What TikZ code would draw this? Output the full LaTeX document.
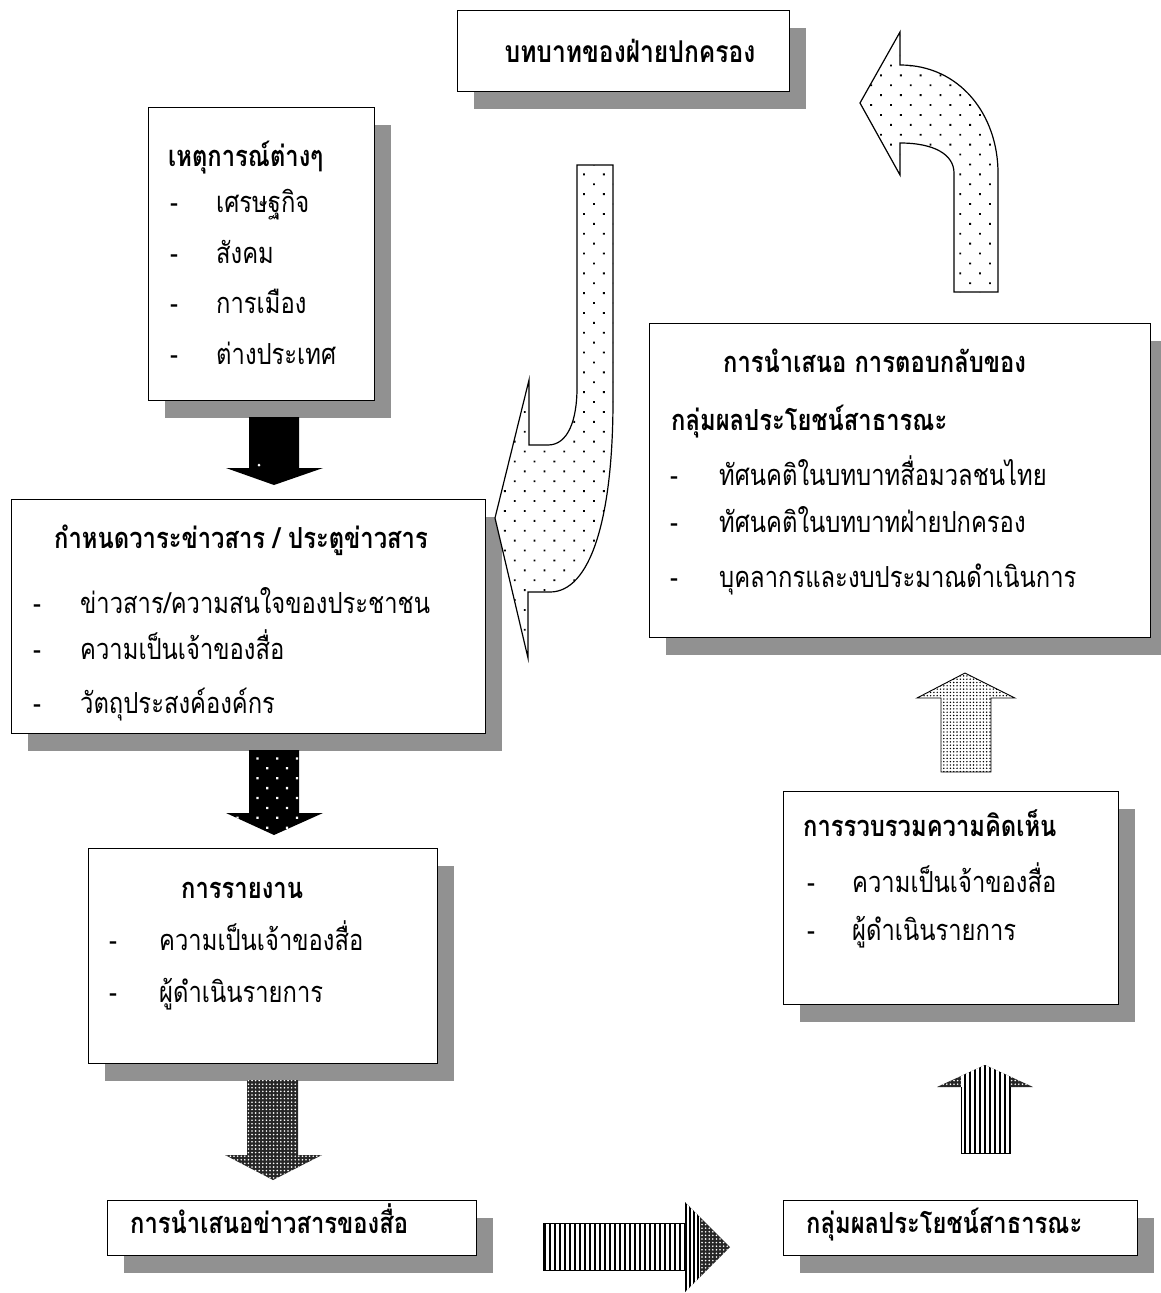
\documentclass[tikz,border=0pt]{standalone}
\usepackage{fontspec}
\newfontfamily\thai[Script=Thai, FakeStretch=0.82]{Loma}
\usetikzlibrary{patterns,patterns.meta,shadows}
\definecolor{shadowgray}{RGB}{145,145,145}
\tikzset{
  bx/.style={draw=black, line width=1.1pt, fill=white, anchor=north west, inner sep=0pt,
    general shadow={fill=shadowgray, shadow xshift=16pt, shadow yshift=-17pt}},
  tt/.style={anchor=base west, inner sep=0pt, font=\thai\bfseries\fontsize{29}{34}\selectfont},
  ttc/.style={anchor=base, inner sep=0pt, font=\thai\bfseries\fontsize{30}{34}\selectfont},
  it/.style={anchor=base west, inner sep=0pt, font=\thai\fontsize{29}{34}\selectfont},
  dsh/.style={anchor=base, inner sep=0pt, font=\thai\fontsize{29}{34}\selectfont},
  curvearrow/.style={draw=black, line width=1.2pt, preaction={fill=white},
    pattern={Dots[distance=14pt,angle=45,radius=1.3pt]}, pattern color=black},
  stripes/.style={pattern={Lines[angle=90,distance=5pt,line width=1.2pt]}, pattern color=black},
  finedots/.style={pattern={Dots[distance=3.3pt,radius=0.8pt]}, pattern color=black},
  darkgrid/.style={preaction={fill=black!85}, pattern={Dots[distance=3.6pt,radius=0.9pt]}, pattern color=white},
}
\begin{document}
\begin{tikzpicture}[x=1pt,y=-1pt]
\fill[white] (0,0) rectangle (1161,1293);
\useasboundingbox (0,0) rectangle (1161,1293);

% boxes
\node[bx, minimum width=332pt, minimum height=81pt] (bA) at (457,10) {};
\node[bx, minimum width=226pt, minimum height=293pt] (bB) at (148,107) {};
\node[bx, minimum width=474pt, minimum height=234pt] (bC) at (11,499) {};
\node[bx, minimum width=349pt, minimum height=215pt] (bD) at (88,848) {};
\node[bx, minimum width=369pt, minimum height=55pt] (bE) at (107,1200) {};
\node[bx, minimum width=354pt, minimum height=55pt] (bF) at (783,1200) {};
\node[bx, minimum width=335pt, minimum height=213pt] (bG) at (783,791) {};
\node[bx, minimum width=501pt, minimum height=314pt] (bH) at (649,323) {};

% texts A
\node[ttc] (tA) at (630,62) {บทบาทของฝ่ายปกครอง};
% B
\node[tt] (tB) at (168,166) {เหตุการณ์ต่างๆ};
\node[dsh] (dB1) at (174,212) {-};
\node[it] (iB1) at (216,212) {เศรษฐกิจ};
\node[dsh] (dB2) at (174,263) {-};
\node[it] (iB2) at (216,263) {สังคม};
\node[dsh] (dB3) at (174,313) {-};
\node[it] (iB3) at (216,313) {การเมือง};
\node[dsh] (dB4) at (174,364) {-};
\node[it] (iB4) at (216,364) {ต่างประเทศ};
% C
\node[tt] (tC) at (54,548) {กำหนดวาระข่าวสาร / ประตูข่าวสาร};
\node[dsh] (dC1) at (37,613) {-};
\node[it] (iC1) at (80,613) {ข่าวสาร/ความสนใจของประชาชน};
\node[dsh] (dC2) at (37,659) {-};
\node[it] (iC2) at (80,659) {ความเป็นเจ้าของสื่อ};
\node[dsh] (dC3) at (37,713) {-};
\node[it] (iC3) at (80,713) {วัตถุประสงค์องค์กร};
% D
\node[tt] (tD) at (181,898) {การรายงาน};
\node[dsh] (dD1) at (113,950) {-};
\node[it] (iD1) at (159,950) {ความเป็นเจ้าของสื่อ};
\node[dsh] (dD2) at (113,1002) {-};
\node[it] (iD2) at (159,1002) {ผู้ดำเนินรายการ};
% E
\node[tt] (tE) at (130,1233) {การนำเสนอข่าวสารของสื่อ};
% F
\node[tt] (tF) at (806,1233) {กลุ่มผลประโยชน์สาธารณะ};
% G
\node[tt] (tG) at (803,836) {การรวบรวมความคิดเห็น};
\node[dsh] (dG1) at (811,892) {-};
\node[it] (iG1) at (852,892) {ความเป็นเจ้าของสื่อ};
\node[dsh] (dG2) at (811,940) {-};
\node[it] (iG2) at (852,940) {ผู้ดำเนินรายการ};
% H
\node[tt] (tH1) at (723,372) {การนำเสนอ การตอบกลับของ};
\node[tt] (tH2) at (671,430) {กลุ่มผลประโยชน์สาธารณะ};
\node[dsh] (dH1) at (674,485) {-};
\node[it] (iH1) at (719,485) {ทัศนคติในบทบาทสื่อมวลชนไทย};
\node[dsh] (dH2) at (674,532) {-};
\node[it] (iH2) at (719,532) {ทัศนคติในบทบาทฝ่ายปกครอง};
\node[dsh] (dH3) at (674,587) {-};
\node[it] (iH3) at (719,587) {บุคลากรและงบประมาณดำเนินการ};

% arrow 1 (black)
\fill[black] (249,417) -- (249,468) -- (226,468) -- (274,485) -- (323,468) -- (299,468) -- (299,417) -- cycle;
\fill[white] (259,465) circle (1.5);

% arrow 2 (black with white dots)
\path[preaction={fill=black}, pattern={Dots[distance=14pt,angle=45,radius=1.6pt]}, pattern color=white]
  (249,750) -- (249,813) -- (226,813) -- (274,835) -- (323,813) -- (299,813) -- (299,750) -- cycle;

% arrow 3 (dark grid)
\path[darkgrid]
  (247,1080) -- (247,1155) -- (225,1155) -- (273,1180) -- (322,1155) -- (298,1155) -- (298,1080) -- cycle;

% arrow 4 (right, stripes)
\path[darkgrid] (685,1202) -- (730,1247) -- (685,1292) -- cycle;
\begin{scope}
  \clip (685,1202) -- (730,1247) -- (685,1292) -- cycle;
  \fill[white] (684,1200) rectangle (700,1295);
  \foreach \xx in {686,690,694,698} \draw[line width=1.2pt] (\xx,1200) -- (\xx,1295);
\end{scope}
\draw[line width=0.9pt, preaction={fill=white}, stripes] (543,1223) rectangle (685,1270);

% arrow 5 (up, stripes)
\path[darkgrid] (937,1087) -- (985,1065) -- (1033,1087) -- cycle;
\begin{scope}
  \clip (961,1153) -- (961,1087) -- (937,1087) -- (985,1065) -- (1033,1087) -- (1010,1087) -- (1010,1153) -- cycle;
  \fill[white] (961,1060) rectangle (1010,1153);
  \path[stripes] (961,1060) rectangle (1010,1153);
\end{scope}
\draw[line width=0.9pt] (961,1087) -- (961,1153) -- (1010,1153) -- (1010,1087);

% arrow 6 (up, fine dots)
\draw[line width=0.9pt, preaction={fill=white}, finedots]
  (941,772) -- (941,698) -- (917,698) -- (965,673) -- (1015,698) -- (991,698) -- (991,772) -- cycle;

% curved arrow top right
\draw[curvearrow] (860,103) -- (900,32) -- (900,65)
  .. controls (960,65) and (998,115) .. (998,173) -- (998,292) -- (954,292) -- (954,173)
  .. controls (954,155) and (935,143) .. (900,143) -- (900,175) -- cycle;

% curved arrow middle
\draw[curvearrow] (577,165) -- (613,165) -- (613,400)
  .. controls (613,520) and (590,592) .. (550,592) -- (528,592) -- (528,658) -- (495,518)
  -- (529,380) -- (529,445) -- (548,445) .. controls (568,445) and (577,420) .. (577,388) -- cycle;
\end{tikzpicture}
\end{document}
